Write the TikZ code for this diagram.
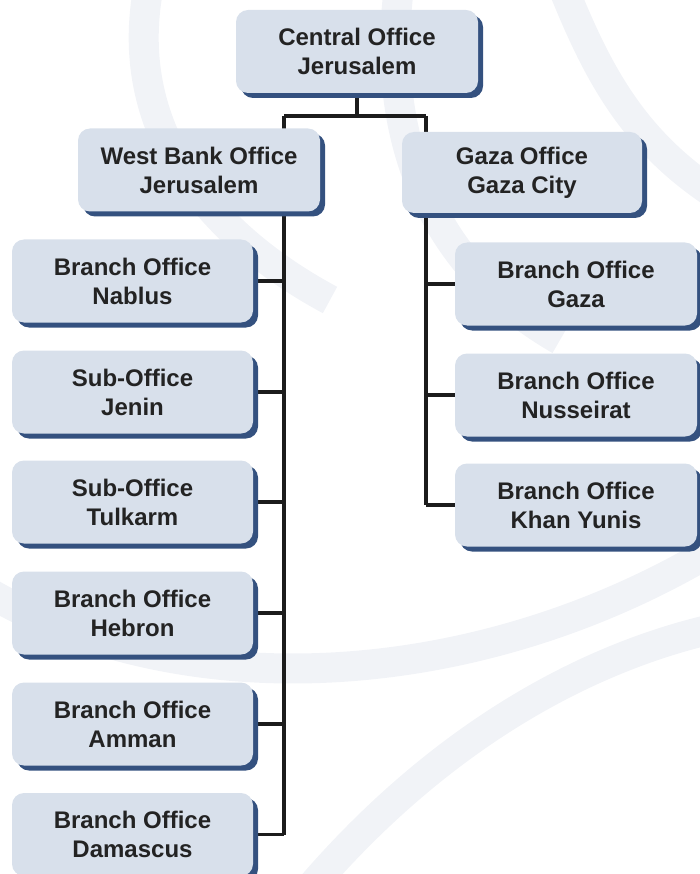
\documentclass[tikz,border=0pt]{standalone}
\usepackage{fontspec}
\setmainfont{Liberation Sans}
\usetikzlibrary{shadows,backgrounds}

\definecolor{boxfill}{HTML}{D8E0EB}
\definecolor{boxshade}{HTML}{34517F}
\definecolor{linkcol}{HTML}{1C1C1C}
\definecolor{wmark}{HTML}{F1F3F7}
\definecolor{txtcol}{HTML}{232323}

\begin{document}
\begin{tikzpicture}
  [x=1pt,y=-1pt,
  office/.style={rectangle, rounded corners=12pt, fill=boxfill, inner sep=0pt,
    minimum width=241pt, minimum height=83pt, align=center, text=txtcol,
    font=\bfseries\fontsize{24}{29}\selectfont,
    drop shadow={shadow xshift=5pt, shadow yshift=-5pt, fill=boxshade, opacity=1}},
  link/.style={draw=linkcol, line width=3.2pt},
  wm/.style={draw=wmark, line width=30pt}]
  \useasboundingbox (0,0) rectangle (699,874);

  % top
  \node[office, minimum width=242pt] (central) at (357,51.5) {Central Office\\Jerusalem};
  \node[office, minimum width=242pt] (westbank) at (199,170) {West Bank Office\\Jerusalem};
  \node[office, minimum width=240pt, minimum height=81pt] (gaza) at (522,172.5) {Gaza Office\\Gaza City};

  % west bank
  \node[office] (nablus) at (132.5,281) {Branch Office\\Nablus};
  \node[office] (jenin) at (132.5,392) {Sub-Office\\Jenin};
  \node[office] (tulkarm) at (132.5,502) {Sub-Office\\Tulkarm};
  \node[office] (hebron) at (132.5,613) {Branch Office\\Hebron};
  \node[office] (amman) at (132.5,724) {Branch Office\\Amman};
  \node[office] (damascus) at (132.5,834.5) {Branch Office\\Damascus};

  % gaza
  \node[office, minimum width=242pt] (gazabr) at (576,284) {Branch Office\\Gaza};
  \node[office, minimum width=242pt] (nusseirat) at (576,395) {Branch Office\\Nusseirat};
  \node[office, minimum width=242pt] (khanyunis) at (576,505) {Branch Office\\Khan Yunis};

  \coordinate (split) at (357,116);
  \coordinate (wbtrunk) at (284,116);
  \coordinate (gztrunk) at (426,116);

  \begin{scope}[on background layer]
    % faint emblem
    \draw[wm] (-60,560) .. controls (150,720) and (500,700) .. (760,520);
    \draw[wm] (300,900) .. controls (450,720) and (620,640) .. (760,620);
    \draw[wm] (150,-20) .. controls (120,120) and (200,230) .. (330,300);
    \draw[wm] (560,-20) .. controls (600,80) and (640,160) .. (760,220);
    \draw[wm] (400,-20) .. controls (380,120) and (420,260) .. (560,340);

    \draw[link] (central) -- (split);
    \draw[link] (wbtrunk) -- (gztrunk);
    \draw[link] (wbtrunk) -- (wbtrunk |- damascus);
    \draw[link] (gztrunk) -- (gztrunk |- khanyunis);
    \foreach \o in {nablus,jenin,tulkarm,hebron,amman,damascus}
      \draw[link] (\o) -- (\o -| wbtrunk);
    \foreach \o in {gazabr,nusseirat,khanyunis}
      \draw[link] (\o) -- (\o -| gztrunk);
  \end{scope}
\end{tikzpicture}
\end{document}
